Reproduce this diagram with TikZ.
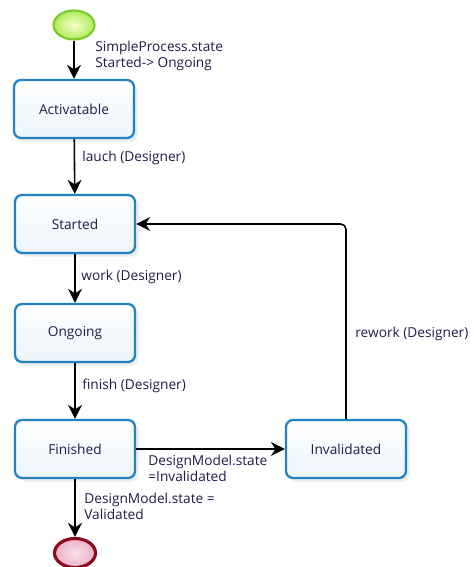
\documentclass[tikz,border=0pt]{standalone}
\usepackage{fontspec}
\setmainfont{Open Sans}
\usetikzlibrary{positioning,calc,arrows.meta,shadows,shapes.geometric}
\tikzset{>={Stealth[length=8pt,width=8pt]}}
\definecolor{boxline}{RGB}{35,130,195}
\definecolor{boxfill}{RGB}{236,244,251}
\definecolor{ink}{RGB}{30,30,70}

\begin{document}
\begin{tikzpicture}[x=0.02cm,y=-0.02cm,
  state/.style={draw=boxline,line width=1.3pt,rounded corners=4pt,
    top color=white,bottom color=boxfill,minimum width=2.4cm,minimum height=1.16cm,
    font=\fontsize{7.8}{9.5}\selectfont,text=ink,
    drop shadow={opacity=.15,shadow xshift=2pt,shadow yshift=-2pt}},
  flow/.style={->,line width=0.9pt},
  lbl/.style={font=\fontsize{7.8}{9}\selectfont,text=ink,align=left,inner sep=0pt}]
\useasboundingbox (0,0) rectangle (475,567);
%\draw[help lines,step=50] (0,0) grid (475,567);
\node[ellipse,draw={rgb,255:red,120;green,200;blue,40},line width=1.2pt,
  inner color={rgb,255:red,245;green,255;blue,200},outer color={rgb,255:red,175;green,235;blue,90},
  minimum width=0.82cm,minimum height=0.58cm] (init) at (74,25) {};
\node[state] (act) at (74,109) {Activatable};
\node[state] (start) at (75,224) {Started};
\node[state] (ongo) at (75,333) {Ongoing};
\node[state] (fin) at (75,449) {Finished};
\node[state] (inv) at (346,449) {Invalidated};
\node[ellipse,draw={rgb,255:red,140;green,10;blue,30},line width=1.8pt,
  inner color={rgb,255:red,250;green,225;blue,235},outer color={rgb,255:red,235;green,175;blue,200},
  minimum width=0.82cm,minimum height=0.58cm] (final) at (75,553) {};
\draw[flow] (init) -- (act);
\draw[flow] (act) -- (start);
\draw[flow] (start) -- (ongo);
\draw[flow] (ongo) -- (fin);
\draw[flow] (fin) -- (final);
\draw[flow] (fin) -- (inv);
\draw[flow,rounded corners=3pt] (inv.north) |- (start.east);
\node[lbl,anchor=north west] at (95,41) {SimpleProcess.state\\Started-> Ongoing};
\node[lbl,anchor=west] at (82,158) {lauch (Designer)};
\node[lbl,anchor=west] at (81,277) {work (Designer)};
\node[lbl,anchor=west] at (82,386) {finish (Designer)};
\node[lbl,anchor=north west] at (148,455) {DesignModel.state\\=Invalidated};
\node[lbl,anchor=north west] at (84,493) {DesignModel.state =\\Validated};
\node[lbl,anchor=west] at (355,334) {rework (Designer)};
\end{tikzpicture}
\end{document}
